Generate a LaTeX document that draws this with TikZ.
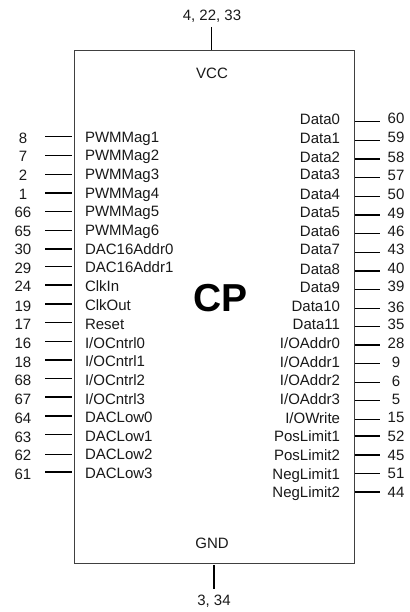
\documentclass[tikz,border=0pt]{standalone}
\usepackage{fontspec}
\setmainfont{Liberation Sans}
\tikzset{
  chipbox/.style={draw=black!75,line width=0.9pt,fill=white,inner sep=0pt},
  pinline/.style={draw=black,line width=1.05pt},
  supplyline/.style={draw=black,line width=1.3pt},
  chiptext/.style={font=\fontsize{15}{15}\selectfont,inner sep=0pt,outer sep=0pt,text=black!90},
  leftlabel/.style={chiptext,anchor=base west},
  rightlabel/.style={chiptext,anchor=base east},
  pinnum/.style={chiptext,anchor=base},
  titletext/.style={font=\fontsize{39}{39}\selectfont\bfseries,inner sep=0pt,outer sep=0pt,anchor=base}
}
\begin{document}
\begin{tikzpicture}[x=1pt,y=-1pt]
\useasboundingbox (0,0) rectangle (409,612);
\node[chipbox,minimum width=280.5pt,minimum height=512.5pt,anchor=north west] (chip) at (73.5,50) {};
\coordinate (vcctop) at (211.7,27);
\coordinate (vccend) at (211.7,50);
\coordinate (gndtop) at (214,565);
\coordinate (gndend) at (214,589);
\draw[supplyline] (vcctop) -- (vccend);
\draw[supplyline] (gndtop) -- (gndend);
\node[pinnum] (vccnum) at (212,20.4) {4, 22, 33};
\node[pinnum] (vcclab) at (212,78.5) {VCC};
\node[pinnum] (gndlab) at (212,548.5) {GND};
\node[pinnum] (gndnum) at (214,605.5) {3, 34};
\node[titletext] (cptitle) at (220.5,311) {CP};
\foreach \i/\ly/\lab/\lty/\num/\nty in {
 1/136.7/PWMMag1/136.7/8/137.7,
 2/155.7/PWMMag2/155/7/156,
 3/174.3/PWMMag3/174/2/174.7,
 4/193/PWMMag4/192.7/1/193.7,
 5/211.7/PWMMag5/211.3/66/212.3,
 6/230.3/PWMMag6/230/65/230.7,
 7/249/DAC16Addr0/248.7/30/249.3,
 8/266.3/DAC16Addr1/267.3/29/268,
 9/285/ClkIn/286/24/286,
 10/304/ClkOut/305/19/305.7,
 11/322.3/Reset/324/17/324.3,
 12/341.3/I\slash OCntrl0/342.7/16/343,
 13/360/I\slash OCntrl1/361/18/361.7,
 14/378.7/I\slash OCntrl2/380/68/380.3,
 15/397/I\slash OCntrl3/398.7/67/398.7,
 16/416/DACLow0/416.7/64/417.7,
 17/434.7/DACLow1/435.7/63/436.7,
 18/454.7/DACLow2/454.3/62/455.3,
 19/472/DACLow3/472.7/61/473.7}
{
  \coordinate (lo\i) at (45,\ly);
  \coordinate (li\i) at (72,\ly);
  \draw[pinline] (lo\i) -- (li\i);
  \node[leftlabel] (ll\i) at (85,\lty+5.4) {\lab};
  \node[pinnum] (ln\i) at (23,\nty+5.4) {\num};
}
\foreach \i/\ly/\lab/\lty/\num/\nty in {
 1/121.7/Data0/118.7/60/118,
 2/140.3/Data1/138/59/137.3,
 3/159/Data2/156.7/58/156.7,
 4/177.7/Data3/174.3/57/175.3,
 5/196.3/Data4/193.7/50/194,
 6/215/Data5/212.3/49/212.7,
 7/233.7/Data6/230.7/46/231,
 8/252.3/Data7/249/43/249.3,
 9/271/Data8/268.7/40/268.3,
 10/289.7/Data9/286.7/39/286,
 11/308.3/Data10/305.7/36/306.7,
 12/326.7/Data11/324.3/35/324,
 13/345/I\slash OAddr0/342.7/28/342.7,
 14/363.3/I\slash OAddr1/361.7/9/362.3,
 15/382.3/I\slash OAddr2/380.3/6/380.7,
 16/400.7/I\slash OAddr3/399/5/399,
 17/419.3/I\slash OWrite/417.7/15/417.3,
 18/436/PosLimit1/436/52/436,
 19/455/PosLimit2/455/45/455,
 20/473.3/NegLimit1/473.7/51/473.3,
 21/492/NegLimit2/492.3/44/492.3}
{
  \coordinate (ri\i) at (354.5,\ly);
  \coordinate (ro\i) at (380,\ly);
  \draw[pinline] (ri\i) -- (ro\i);
  \node[rightlabel] (rl\i) at (340,\lty+5.4) {\lab};
  \node[pinnum] (rn\i) at (396,\nty+5.4) {\num};
}
\end{tikzpicture}
\end{document}
